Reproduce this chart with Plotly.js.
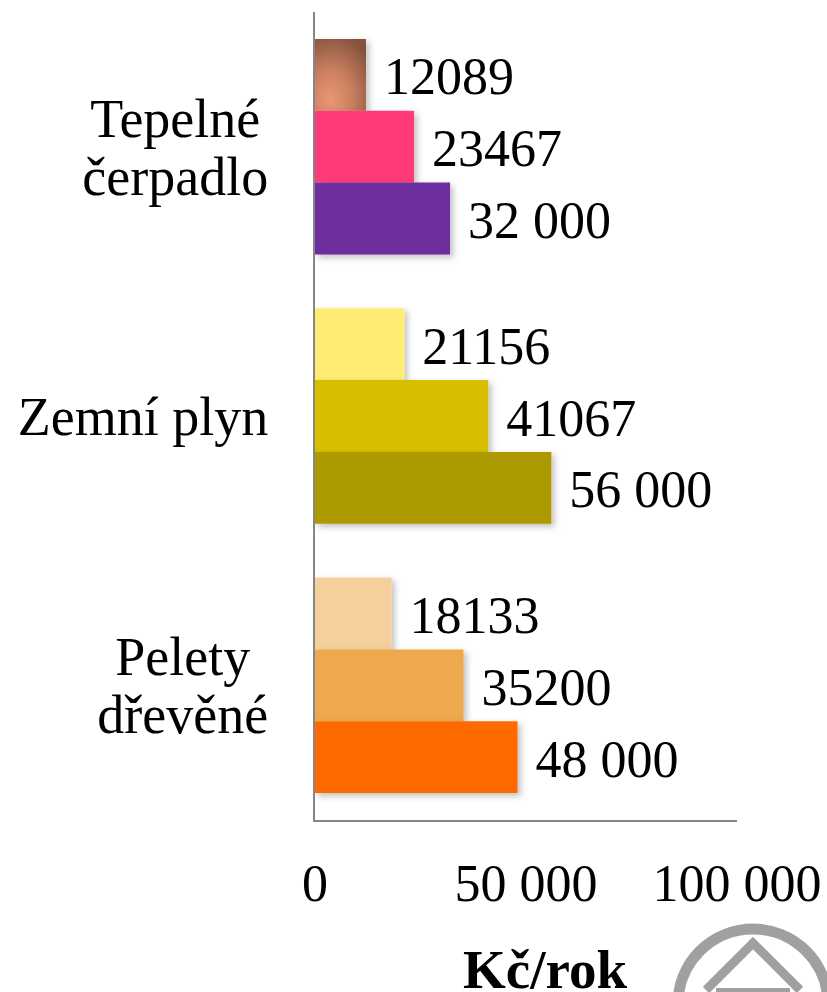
<!DOCTYPE html>
<html><head><meta charset="utf-8">
<script src="https://cdn.plot.ly/plotly-3.0.1.min.js"></script>
<style>html,body{margin:0;padding:0;background:#fff}#c{width:827px;height:992px}</style>
</head><body><div id="c"></div>
<script>
const categories = ["Tepelné<br>čerpadlo", "Zemní plyn", "Pelety<br>dřevěné"];
const values1 = [12089, 21156, 18133];
const values2 = [23467, 41067, 35200];
const values3 = [32000, 56000, 48000];
const labels1 = ["12089", "21156", "18133"];
const labels2 = ["23467", "41067", "35200"];
const labels3 = ["32 000", "56 000", "48 000"];
const colors1 = ["#B9795C", "#FFEC75", "#F5CF9C"];
const colors2 = ["#FF3B77", "#D7BE00", "#EEA84D"];
const colors3 = ["#6E2F9E", "#AD9900", "#FF6B00"];
const xTickVals = [0, 50000, 100000];
const xTickText = ["0", "50 000", "100 000"];
const xTitle = "<b>Kč/rok</b>";
const FONT = "Liberation Serif";

function series(name, vals, labs, cols) {
  return {type: "bar", orientation: "h", name: name, x: vals, y: categories,
    text: labs.map(t => "\u00a0" + t), textposition: "outside", cliponaxis: false,
    textfont: {family: FONT, size: 52, color: "#000"}, constraintext: "none",
    marker: {color: cols, line: {width: 0}}, hoverinfo: "x+y"};
}
const W = 827, H = 992, L = 315, R = 737, T = 12, B = 820;
const px = v => (v - L) / (R - L), py = v => (B - v) / (B - T);
const grey = "#A0A0A0";
const logo = [
  {type: "circle", xref: "paper", yref: "paper", x0: px(678), x1: px(828), y0: py(1079), y1: py(929),
   line: {color: grey, width: 11}, fillcolor: "rgba(0,0,0,0)"},
  {type: "path", xref: "paper", yref: "paper",
   path: `M ${px(706)} ${py(990)} L ${px(753)} ${py(943)} L ${px(800)} ${py(990)}`,
   line: {color: grey, width: 9}},
  {type: "line", xref: "paper", yref: "paper", x0: px(716), x1: px(790), y0: py(992), y1: py(992),
   line: {color: grey, width: 8}}
];
const layout = {
  width: W, height: H, margin: {l: L, r: W - R, t: T, b: H - B, pad: 0},
  paper_bgcolor: "#fff", plot_bgcolor: "#fff", showlegend: false,
  barmode: "group", bargap: 0.2, bargroupgap: 0,
  font: {family: FONT, size: 50, color: "#000"},
  xaxis: {range: [0, 100000], tickmode: "array", tickvals: xTickVals, ticktext: xTickText,
    showgrid: false, zeroline: false, showline: true, linecolor: "#868686", linewidth: 2,
    ticks: "", ticklabelstandoff: 17, tickfont: {family: FONT, size: 52, color: "#000"}},
  yaxis: {range: [2.5, -0.5], type: "category", categoryorder: "array", categoryarray: categories,
    showgrid: false, zeroline: false, showline: true, linecolor: "#868686", linewidth: 2,
    ticks: "", ticklabelstandoff: 34, tickfont: {family: FONT, size: 54, color: "#000"}},
  annotations: [{text: xTitle, xref: "paper", yref: "paper", x: px(545), y: py(969),
    xanchor: "center", yanchor: "middle", showarrow: false,
    font: {family: FONT, size: 55, color: "#000"}}],
  shapes: logo
};
const data = [series("Řada 1", values1, labels1, colors1),
              series("Řada 2", values2, labels2, colors2),
              series("Řada 3", values3, labels3, colors3)];
Plotly.newPlot("c", data, layout, {staticPlot: true, displayModeBar: false}).then(gd => {
  const svg = gd.querySelector("svg.main-svg");
  const NS = "http://www.w3.org/2000/svg";
  const defs = svg.querySelector("defs");
  defs.insertAdjacentHTML("beforeend",
    `<radialGradient xmlns="${NS}" id="brownGrad" cx="0.3" cy="0.85" r="0.95">
       <stop offset="0" stop-color="#EC9774"/><stop offset="0.45" stop-color="#C97F60"/>
       <stop offset="1" stop-color="#84523E"/></radialGradient>
     <filter xmlns="${NS}" id="barShadow" x="-20%" y="-20%" width="150%" height="150%">
       <feDropShadow dx="3" dy="3" stdDeviation="3" flood-color="#000" flood-opacity="0.25"/></filter>`);
  const traces = svg.querySelectorAll(".barlayer .trace");
  traces.forEach(t => t.querySelectorAll(".point path").forEach(p => p.setAttribute("filter", "url(#barShadow)")));
  traces[0].querySelectorAll(".point path")[0].style.fill = "url(#brownGrad)";
  svg.querySelectorAll(".barlayer text").forEach(t => {
    t.setAttribute("transform", "translate(2,2) " + (t.getAttribute("transform") || ""));
  });
  svg.querySelectorAll(".ytick text").forEach(t => {
    const b0 = t.getBBox(), right = b0.x + b0.width, mid = right - b0.width / 2, cy0 = b0.y + b0.height / 2;
    t.setAttribute("text-anchor", "middle");
    t.style.textAnchor = "middle";
    t.setAttribute("x", mid);
    const lines = t.querySelectorAll("tspan.line");
    lines.forEach(s => s.setAttribute("x", mid));
    if (lines.length > 1) {
      lines[1].setAttribute("dy", "58");
      lines[1].removeAttribute("y");
      const b1 = t.getBBox();
      t.setAttribute("y", +t.getAttribute("y") + (cy0 - (b1.y + b1.height / 2)));
      lines[0].setAttribute("y", t.getAttribute("y"));
    }
  });
});
</script></body></html>
